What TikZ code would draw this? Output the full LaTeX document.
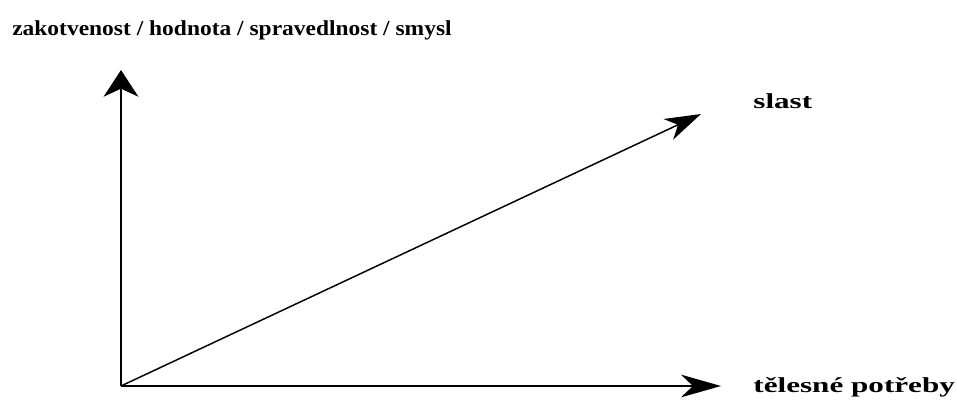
\documentclass[tikz,border=0pt]{standalone}
\usepackage{fontspec}
\setmainfont{Liberation Serif}
\usetikzlibrary{arrows.meta, positioning}
\tikzset{
    axis/.style={line width=1.5pt, black},
    uptip/.style={-{Stealth[length=20pt, width=26pt, inset=6pt]}},
    sidetip/.style={-{Stealth[length=30pt, width=17pt, inset=9pt]}},
    diagtip/.style={-{Stealth[length=27pt, width=17pt, inset=8pt]}},
    axlabel/.style={font=\fontsize{16}{19}\selectfont\bfseries, inner sep=0pt, transform shape}
}

\begin{document}
\begin{tikzpicture}[x=0.75pt, y=-0.75pt]
    \useasboundingbox (0,0) rectangle (957,403);
    \coordinate (o) at (121,386);
    \coordinate (up) at (121,70);
    \coordinate (right) at (721,386);
    \coordinate (diag) at (701,114);
    \node[axlabel, xscale=1.1, anchor=west] (tlab) at (12,30) {zakotvenost / hodnota / spravedlnost / smysl};
    \node[axlabel, xscale=1.46, anchor=west] (slab) at (753,101) {slast};
    \node[axlabel, xscale=1.46, anchor=west] (rlab) at (753,387) {tělesné potřeby};
    \draw[axis, uptip] (o) -- (up);
    \draw[axis, sidetip] (o) -- (right);
    \draw[axis, diagtip, line width=1.1pt] (o) -- (diag);
\end{tikzpicture}
\end{document}
